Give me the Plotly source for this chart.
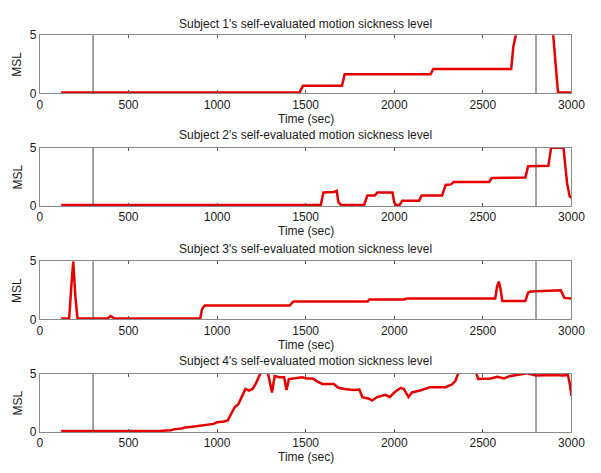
import plotly.graph_objects as go

# ---- data ----
t1 = [120, 1465, 1485, 1705, 1720, 2205, 2220, 2660, 2672, 2685, 2700, 2880, 2897, 2924, 3000]
v1 = [0.08, 0.08, 0.65, 0.65, 1.65, 1.65, 2.1, 2.1, 4.0, 5.3, 6.0, 6.0, 5.0, 0.08, 0.08]

t2 = [120, 1585, 1600, 1660, 1675, 1685, 1700, 1830, 1848, 1890, 1905, 1990, 2000, 2010, 2030,
      2045, 2140, 2155, 2270, 2290, 2320, 2335, 2535, 2550, 2740, 2755, 2870, 2885, 2955, 2975,
      2990, 3000]
v2 = [0.08, 0.08, 1.15, 1.2, 1.3, 0.3, 0.08, 0.08, 0.9, 0.9, 1.15, 1.15, 0.3, 0.08, 0.08,
      0.45, 0.45, 0.9, 0.9, 1.8, 1.85, 2.05, 2.05, 2.4, 2.45, 3.4, 3.45, 5.0, 5.0, 2.0,
      0.8, 0.7]

t3 = [120, 165, 178, 188, 200, 212, 380, 400, 420, 905, 915, 930, 1410, 1430, 1850, 1860,
      2055, 2070, 2570, 2580, 2590, 2600, 2610, 2740, 2755, 2770, 2940, 2960, 3000]
v3 = [0.08, 0.08, 3.0, 5.0, 2.0, 0.08, 0.08, 0.3, 0.08, 0.08, 0.9, 1.2, 1.2, 1.55, 1.55, 1.72,
      1.72, 1.8, 1.8, 2.8, 3.25, 2.6, 1.58, 1.58, 2.3, 2.4, 2.5, 1.85, 1.8]

t4 = [120, 650, 690, 740, 760, 800, 820, 860, 880, 920, 940, 980, 1000, 1040,
      1060, 1080, 1100, 1120, 1140, 1160, 1180, 1200, 1220, 1240,
      1255, 1285, 1295, 1310, 1325, 1350, 1378, 1392, 1405, 1430,
      1460, 1480, 1505, 1540, 1567, 1594, 1658, 1685, 1720, 1767,
      1803, 1820, 1858, 1875, 1903, 1950, 1975, 2000, 2036, 2054,
      2080, 2100, 2145, 2200, 2290, 2327, 2345, 2365, 2380, 2460,
      2473, 2520, 2546, 2582, 2620, 2650, 2700, 2750, 2800, 2850,
      2900, 2950, 2980, 2990, 3000]
v4 = [0.08, 0.08, 0.12, 0.15, 0.25, 0.3, 0.4, 0.45, 0.5, 0.55, 0.65, 0.7, 0.85, 0.9,
      1.0, 1.6, 2.15, 2.4, 3.1, 3.7, 3.55, 3.7, 4.2, 5.0,
      5.4, 5.2, 4.5, 3.4, 4.8, 4.7, 4.7, 3.6, 4.55, 4.6,
      4.6, 4.7, 4.6, 4.6, 4.33, 4.13, 4.13, 3.8, 3.7, 3.6,
      3.65, 3.0, 2.86, 2.7, 3.0, 3.2, 3.0, 3.4, 3.8, 3.7,
      3.0, 3.4, 3.56, 3.85, 3.85, 4.1, 4.4, 5.2, 5.4, 5.2,
      4.55, 4.55, 4.6, 4.75, 4.6, 4.8, 4.95, 5.05, 4.85, 4.9,
      4.9, 4.85, 4.9, 4.2, 3.1]

series = [(t1, v1), (t2, v2), (t3, v3), (t4, v4)]
titles = ["Subject 1's self-evaluated motion sickness level",
          "Subject 2's self-evaluated motion sickness level",
          "Subject 3's self-evaluated motion sickness level",
          "Subject 4's self-evaluated motion sickness level"]
event_times = [300, 2800]
x_ticks = [0, 500, 1000, 1500, 2000, 2500, 3000]
y_ticks = [0, 5]

# ---- layout geometry (pixels) ----
W, H = 601, 473
left, right = 38, 585
panels = [(29, 89), (145, 205), (262, 322), (378, 438)]
title_y = [18, 132, 249, 365]
xlabel_y = [115, 231, 348, 464]

font = "Liberation Sans, Arial, sans-serif"
txt = "#1a1a1a"
fs = 12

fig = go.Figure()
layout = dict(
    width=W, height=H, margin=dict(l=0, r=0, t=0, b=0),
    paper_bgcolor="white", plot_bgcolor="white", showlegend=False,
    font=dict(family=font, size=fs, color=txt),
)
annotations = []
shapes = []
for i, (t, v) in enumerate(series):
    n = "" if i == 0 else str(i + 1)
    top, bot = panels[i]
    fig.add_trace(go.Scatter(x=t, y=v, mode="lines",
                             line=dict(color="#e60000", width=2.5),
                             xaxis="x" + n, yaxis="y" + n, hoverinfo="skip"))
    axcommon = dict(showline=True, linecolor="#8a8a8a", linewidth=1, mirror="ticks",
                    ticks="inside", ticklen=3, tickcolor="#555", showgrid=False,
                    zeroline=False, tickfont=dict(family=font, size=fs, color=txt))
    layout["xaxis" + n] = dict(domain=[left / W, right / W], range=[0, 3000],
                               tickvals=x_ticks, anchor="y" + n, **axcommon)
    layout["yaxis" + n] = dict(domain=[1 - bot / H, 1 - top / H], range=[0, 5],
                               tickvals=y_ticks, anchor="x" + n, **axcommon)
    annotations.append(dict(text=titles[i], x=(left + right) / 2 / W, y=1 - title_y[i] / H,
                            xref="paper", yref="paper", showarrow=False, borderpad=0,
                            font=dict(family=font, size=fs, color=txt),
                            xanchor="center", yanchor="middle"))
    annotations.append(dict(text="Time (sec)", x=(left + right) / 2 / W, y=1 - xlabel_y[i] / H,
                            xref="paper", yref="paper", showarrow=False, borderpad=0,
                            font=dict(family=font, size=fs, color=txt),
                            xanchor="center", yanchor="middle"))
    annotations.append(dict(text="MSL", x=15 / W, y=1 - (top + bot) / 2 / H,
                            xref="paper", yref="paper", showarrow=False, textangle=-90,
                            borderpad=0, font=dict(family=font, size=fs, color=txt),
                            xanchor="center", yanchor="middle"))
    for et in event_times:
        shapes.append(dict(type="line", xref="x" + n, yref="y" + n + " domain",
                           x0=et, x1=et, y0=0, y1=1,
                           line=dict(color="#444", width=1)))

layout["annotations"] = annotations
layout["shapes"] = shapes
fig.update_layout(**layout)
fig.write_html("out.html")
